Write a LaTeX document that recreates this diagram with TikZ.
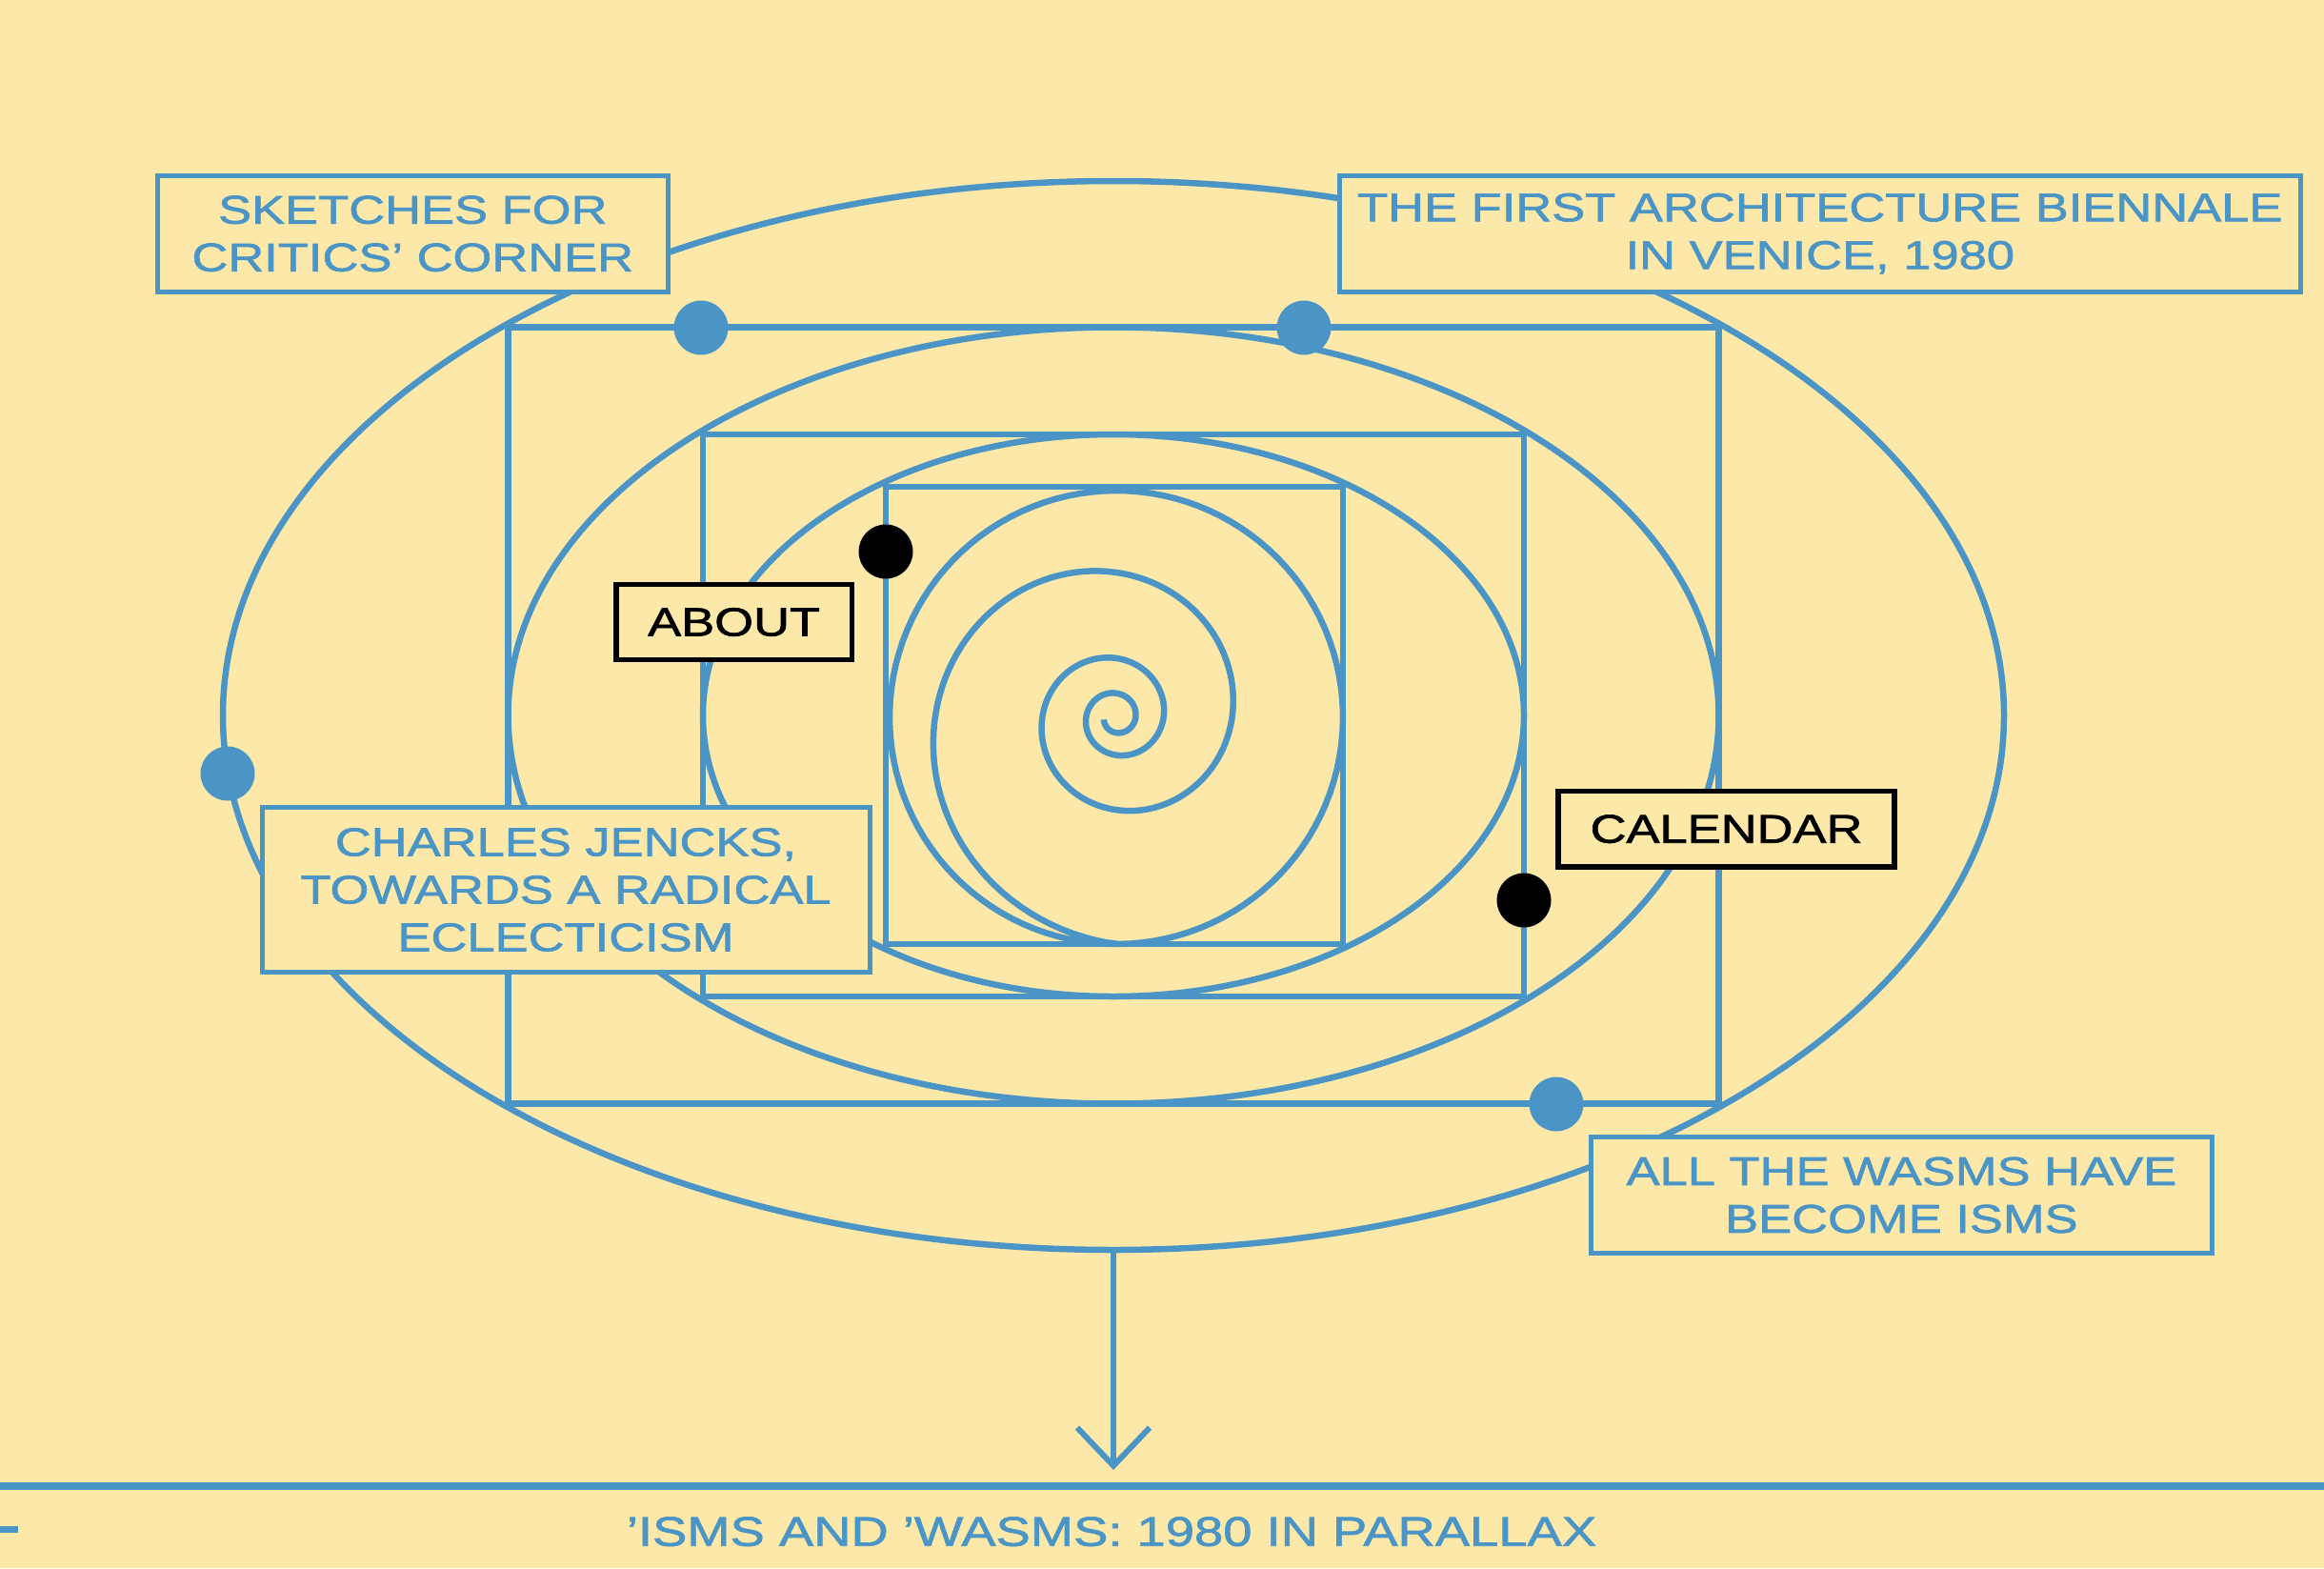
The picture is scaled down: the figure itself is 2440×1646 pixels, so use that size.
\documentclass[tikz,border=0pt]{standalone}
\usepackage{fontspec}
\usepackage{tikz}
\usetikzlibrary{arrows.meta, shapes.geometric, positioning}
\newfontfamily\tagfont[FakeStretch=1.25, FakeBold=1.6]{Liberation Sans}
\definecolor{accent}{RGB}{74, 149, 198}
\definecolor{paper}{RGB}{252, 232, 168}

\begin{document}
\begin{tikzpicture}[
          x=1pt, y=-1pt,
          orbit/.style={ellipse, draw=accent, line width=6.5pt, inner sep=0pt},
          panel/.style={rectangle, draw=accent, line width=6.5pt, inner sep=0pt},
          tagbox/.style={draw=accent, line width=5pt, fill=paper, text=accent, inner sep=0pt,
                      font=\tagfont\fontsize{42}{50}\selectfont, align=center},
          navbox/.style={tagbox, draw=black, text=black, line width=5.5pt},
          bullet/.style={circle, fill=accent, minimum size=57pt, inner sep=0pt},
          navbullet/.style={bullet, fill=black},
          arr/.style={-{Straight Barb[length=40pt, width=76pt, sharp]}, line width=6pt, color=accent},
        ]
        \useasboundingbox[fill=paper] (0,0) rectangle (2440,1646);
        % rings and frames, outermost first
        \node[orbit, minimum width=1870pt, minimum height=1122pt] (o1) at (1169,751) {};
        \node[panel, minimum width=1271pt, minimum height=815pt] (p1) at (1169,751) {};
        \node[orbit, minimum width=1271pt, minimum height=815pt] (o2) at (1169,751) {};
        \node[panel, minimum width=862pt, minimum height=590pt] (p2) at (1169,751) {};
        \node[orbit, minimum width=862pt, minimum height=590pt] (o3) at (1169,751) {};
        \node[panel, minimum size=480pt] (p3) at (1170,751) {};
        % spiral
        \draw[accent, line width=6.5pt] plot[domain=-170:1350, samples=500, variable=\t]
          ({1172 + min(238, 238*exp(0.896*(\t-990)/360))*cos(\t)},
           {753 - min(238, 238*exp(0.896*(\t-990)/360))*sin(\t)});
        % dots
        \node[bullet] (d1) at (736,344) {};
        \node[bullet] (d2) at (1369,344) {};
        \node[bullet] (d3) at (239,812) {};
        \node[bullet] (d4) at (1634,1159) {};
        \node[navbullet] (d5) at (930,579) {};
        \node[navbullet] (d6) at (1600,945) {};
        % labels
        \node[tagbox, minimum width=536.5pt, minimum height=122.5pt] (sketch) at (433.3,245.3) {SKETCHES FOR\\CRITICS’ CORNER};
        \node[tagbox, minimum width=1008.5pt, minimum height=122.5pt] (venice) at (1910.8,245.3) {THE FIRST ARCHITECTURE BIENNALE\\IN VENICE, 1980};
        \node[navbox, minimum width=247.7pt, minimum height=79.4pt] (about) at (770.6,653) {ABOUT};
        \node[tagbox, minimum width=638pt, minimum height=173pt] (jencks) at (594,934) {CHARLES JENCKS,\\TOWARDS A RADICAL\\ECLECTICISM};
        \node[navbox, minimum width=353.4pt, minimum height=79.7pt] (calendar) at (1812.5,870.2) {CALENDAR};
        \node[tagbox, minimum width=651.3pt, minimum height=122.6pt] (wasms) at (1996.4,1254.5) {ALL THE WASMS HAVE\\BECOME ISMS};
        % arrow down to the footer
        \coordinate (tip) at (1169,1543);
        \draw[arr] (o1.south) -- (tip);
        \draw[accent, line width=8pt] (0,1560) -- (2440,1560);
        \fill[accent] (0,1602) rectangle (19,1609.3);
        \node[text=accent, font=\tagfont\fontsize{43.5}{50}\selectfont, inner sep=0pt, anchor=base] (title) at (1167,1622.7) {’ISMS AND ’WASMS: 1980 IN PARALLAX};
      \end{tikzpicture}
\end{document}
